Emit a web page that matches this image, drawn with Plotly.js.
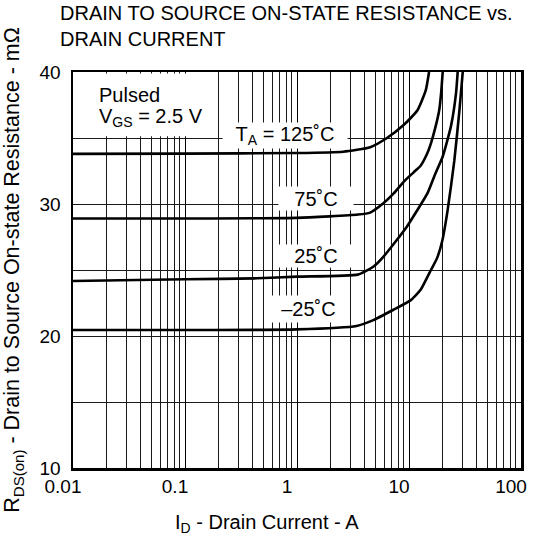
<!DOCTYPE html>
<html>
<head>
<meta charset="utf-8">
<script src="https://cdn.plot.ly/plotly-3.0.1.min.js"></script>
<style>html,body{margin:0;padding:0;background:#fff;}#chart{width:545px;height:538px;}</style>
</head>
<body>
<div id="chart"></div>
<script>
// Drain current (A) and on-resistance (mΩ) per ambient temperature
const curveLabels = ["T<sub>A</sub> = 125˚C", "75˚C", "25˚C", "–25˚C"];

const id125 = [0.01, 0.1, 1, 2.58, 4.5, 6.35, 9.0, 11.9, 14.1, 15.1];
const r125  = [33.8, 33.82, 33.86, 33.96, 34.3, 35.0, 36.0, 37.1, 38.6, 40];

const id75 = [0.01, 0.1, 1, 3.5, 4.5, 5.9, 7.3, 9.0, 11.0, 12.7, 14.5, 15.7, 17.2, 18.6, 19.4, 20];
const r75  = [28.9, 28.9, 28.95, 29.2, 29.35, 30.05, 30.8, 31.7, 32.4, 32.9, 33.8, 34.6, 35.8, 37.1, 38.5, 40];

const id25 = [0.01, 0.1, 0.44, 1, 3.5, 4.8, 5.9, 7.5, 9.6, 12, 14.6, 17, 20, 23.7, 26.3, 27.2];
const r25  = [24.17, 24.3, 24.37, 24.5, 24.65, 25.25, 26.0, 27.1, 28.3, 29.6, 30.8, 32.2, 33.6, 35.9, 38.4, 40];

const idm25 = [0.01, 0.1, 1, 3.4, 4.8, 7.3, 10.3, 12.7, 15.7, 17.8, 19.8, 22.1, 25.4, 28.2, 30.2];
const rm25  = [20.45, 20.45, 20.5, 20.76, 21.2, 22.0, 22.7, 23.5, 25.0, 25.9, 27.2, 29.5, 33.3, 37.1, 40];

const xTickVals = [0.01, 0.1, 1, 10, 100];
const xTickText = ["0.01", "0.1", "1", "10", "100"];
const yTickVals = [10, 20, 30, 40];
const yTickText = ["10", "20", "30", "40"];

const xTitle = "I<sub>D</sub> - Drain Current - A";
const yTitle = "R<sub>DS(on)</sub> - Drain to Source On-state Resistance - mΩ";

const FONT = "Liberation Sans, Arial, Helvetica, sans-serif";

function curve(x, y, name) {
  return {x: x, y: y, name: name, type: "scatter", mode: "lines",
          line: {color: "#000", width: 2.6, shape: "spline", smoothing: 0.5},
          hoverinfo: "skip", showlegend: false};
}

const data = [
  curve(id125, r125, curveLabels[0]),
  curve(id75, r75, curveLabels[1]),
  curve(id25, r25, curveLabels[2]),
  curve(idm25, rm25, curveLabels[3])
];

function label(text, x, y, w, h) {
  return {text: text, xref: "paper", yref: "paper", x: x, y: y,
          xanchor: "center", yanchor: "middle", showarrow: false,
          bgcolor: "#fff", width: w, height: h, borderpad: 0,
          font: {family: FONT, size: 20, color: "#000"}};
}

const layout = {
  width: 545, height: 538,
  margin: {l: 73, r: 24, t: 72, b: 70},
  paper_bgcolor: "#fff", plot_bgcolor: "#fff",
  font: {family: FONT, size: 20, color: "#000"},
  title: {text: "DRAIN TO SOURCE ON-STATE RESISTANCE vs.<br>DRAIN CURRENT",
          x: 60/545, xanchor: "left", xref: "container",
          y: 0.963, yanchor: "top", yref: "container",
          font: {family: FONT, size: 20, color: "#000"}},
  xaxis: {type: "log", range: [-2, 2], tickmode: "array",
          tickvals: xTickVals, ticktext: xTickText,
          ticks: "", ticklabelshift: -10,
          tickfont: {family: FONT, size: 19, color: "#000"},
          showgrid: true, gridcolor: "#000", gridwidth: 1,
          minor: {dtick: "D1", showgrid: true, gridcolor: "#1a1a1a", gridwidth: 1, ticks: ""},
          showline: true, linecolor: "#000", linewidth: 2.5, mirror: true,
          zeroline: false, automargin: false,
          title: {text: ""}},
  yaxis: {type: "linear", range: [10, 40], tickmode: "array",
          tickvals: yTickVals, ticktext: yTickText,
          ticks: "outside", ticklen: 6, tickcolor: "rgba(0,0,0,0)",
          tickfont: {family: FONT, size: 19, color: "#000"},
          showgrid: true, gridcolor: "#1a1a1a", gridwidth: 1,
          minor: {dtick: 5, showgrid: true, gridcolor: "#1a1a1a", gridwidth: 1, ticks: ""},
          showline: true, linecolor: "#000", linewidth: 2.5, mirror: true,
          zeroline: false, automargin: false,
          title: {text: yTitle, font: {family: FONT, size: 21.5, color: "#000"}}},
  shapes: [
    {type: "rect", xref: "paper", yref: "paper", x0: 0.004, x1: 0.32, y0: 0.838, y1: 0.996,
     fillcolor: "#fff", line: {width: 0}, layer: "above"}
  ],
  annotations: [
    {text: xTitle, xref: "paper", yref: "paper", x: 0.433, y: -0.1414,
     xanchor: "center", yanchor: "middle", showarrow: false,
     font: {family: FONT, size: 20, color: "#000"}},
    {text: "Pulsed", xref: "paper", yref: "paper", x: 0.0536, y: 0.942,
     xanchor: "left", yanchor: "middle", showarrow: false,
     font: {family: FONT, size: 20, color: "#000"}},
    {text: "V<sub>GS</sub> = 2.5 V", xref: "paper", yref: "paper", x: 0.0536, y: 0.884,
     xanchor: "left", yanchor: "middle", showarrow: false,
     font: {family: FONT, size: 20, color: "#000"}},
    label(curveLabels[0], 0.473, 0.8396, 124, 25),
    label(curveLabels[1], 0.5435, 0.6806, 74, 23),
    label(curveLabels[2], 0.5435, 0.5366, 74, 22),
    label(curveLabels[3], 0.5257, 0.4015, 77, 26)
  ]
};

Plotly.newPlot("chart", data, layout, {displayModeBar: false, staticPlot: true});
</script>
</body>
</html>
